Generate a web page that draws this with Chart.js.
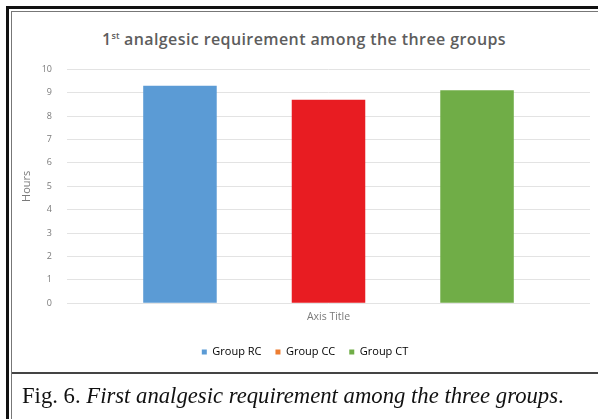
<!DOCTYPE html>
<html>
<head>
<meta charset="utf-8">
<script src="https://cdn.jsdelivr.net/npm/chart.js@4/dist/chart.umd.min.js"></script>
<style>
  html, body { margin: 0; padding: 0; background: #fff; }
  #page { position: relative; width: 598px; height: 419px; overflow: hidden; background: #fff; }
  .rule { position: absolute; }
  #outerTop { left: 6px; top: 6px; width: 600px; height: 3px; background: #111; }
  #outerLeft { left: 6px; top: 6px; width: 3px; height: 420px; background: #111; }
  #innerTop { left: 11px; top: 11px; width: 600px; height: 1px; background: #777; }
  #innerLeft { left: 11px; top: 11px; width: 1px; height: 420px; background: #777; }
  #divider { left: 12px; top: 372px; width: 600px; height: 2px; background: #444; }
  #chartTitle {
    position: absolute; left: 0; top: 30px; width: 608px; text-align: center;
    font-family: "Open Sans", sans-serif; font-weight: 600; font-size: 16px; line-height: 19px;
    letter-spacing: 0.4px; color: #5d5d5d;
  }
  #chartTitle sup { font-size: 9px; vertical-align: 6px; line-height: 0; letter-spacing: 0; }
  #chartBox { position: absolute; left: 12px; top: 13px; width: 586px; height: 370px; }
  #caption {
    position: absolute; left: 22px; top: 383px; white-space: nowrap;
    font-family: "Liberation Serif", serif; font-size: 22.7px; line-height: 26px; color: #111;
  }
  #caption i { font-style: italic; }
</style>
</head>
<body>
<div id="page">
  <div class="rule" id="outerTop"></div>
  <div class="rule" id="outerLeft"></div>
  <div class="rule" id="innerTop"></div>
  <div class="rule" id="innerLeft"></div>
  <div id="chartTitle">1<sup>st</sup> analgesic requirement among the three groups</div>
  <div id="chartBox"><canvas id="chart"></canvas></div>
  <div class="rule" id="divider"></div>
  <div id="caption">Fig. 6. <i>First analgesic requirement among the three groups</i>.</div>
</div>
<script>
const groups = ['Group RC', 'Group CC', 'Group CT'];
const hours = [9.3, 8.7, 9.1];
const barColors = ['#5b9bd5', '#e81c22', '#70ad47'];
const legendColors = ['#5b9bd5', '#ed7d31', '#70ad47'];
const yTicks = [0, 1, 2, 3, 4, 5, 6, 7, 8, 9, 10];

const grey = '#7a7a7a';
const font = 'Open Sans';

const datasets = groups.map((name, i) => ({
  label: name,
  data: [hours[i]],
  backgroundColor: barColors[i],
  borderWidth: 0,
  categoryPercentage: 0.852,
  barPercentage: 0.495
}));

new Chart(document.getElementById('chart'), {
  type: 'bar',
  data: { labels: [''], datasets },
  options: {
    responsive: true,
    maintainAspectRatio: false,
    animation: false,
    layout: { padding: { top: 56.3, right: 8, bottom: 15.5, left: 8 } },
    plugins: {
      tooltip: { enabled: false },
      legend: {
        position: 'bottom',
        labels: {
          boxWidth: 5,
          boxHeight: 5,
          padding: 14,
          color: grey,
          font: { family: font, size: 11 },
          // CC keeps its orange swatch in the key even though the bar is red
          generateLabels: chart => chart.data.datasets.map((ds, i) => ({
            text: ds.label,
            fillStyle: legendColors[i],
            strokeStyle: legendColors[i],
            lineWidth: 0,
            hidden: false,
            datasetIndex: i
          }))
        }
      }
    },
    scales: {
      x: {
        grid: { display: false, drawTicks: false },
        border: { display: false },
        ticks: { display: false },
        title: {
          display: true, text: 'Axis Title', color: grey,
          font: { family: font, size: 10.5 }, padding: { top: 0, bottom: 9.5 }
        },
        afterFit: scale => { scale.height = 29.2; }
      },
      y: {
        min: yTicks[0],
        max: yTicks[yTicks.length - 1],
        afterBuildTicks: scale => { scale.ticks = yTicks.map(v => ({ value: v })); },
        grid: { color: '#e3e3e3', lineWidth: 1, drawTicks: false },
        border: { display: false },
        ticks: { color: grey, padding: 15, font: { family: font, size: 9 } },
        title: {
          display: true, text: 'Hours', color: grey,
          font: { family: font, size: 11 }, padding: { top: 0.5, bottom: 0 }
        },
        afterFit: scale => { scale.width = 47; }
      }
    }
  }
});
</script>
</body>
</html>
